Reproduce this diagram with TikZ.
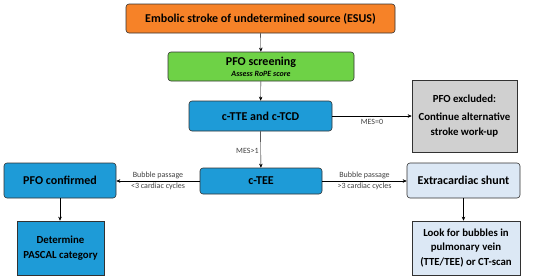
\documentclass[tikz,border=0pt]{standalone}
\usepackage{fontspec}
\setmainfont{Carlito}
\usetikzlibrary{positioning,arrows.meta,calc}
\definecolor{esusorange}{RGB}{246,130,40}
\definecolor{screengreen}{RGB}{110,210,70}
\definecolor{echoblue}{RGB}{30,155,215}
\definecolor{exclgray}{RGB}{208,208,208}
\definecolor{shuntblue}{RGB}{220,232,245}
\definecolor{edgegray}{RGB}{50,50,50}
\tikzset{
  flowbox/.style={draw=edgegray,line width=0.6pt,rounded corners=3pt,align=center,
    font=\bfseries\fontsize{12}{14}\selectfont,inner sep=2pt},
  sqbox/.style={flowbox,rounded corners=0pt,font=\bfseries\fontsize{10.8}{14.5}\selectfont},
  flowlbl/.style={font=\fontsize{8}{9.5}\selectfont,text=black!75,align=center,inner sep=1pt}
}
\begin{document}
\begin{tikzpicture}[x=1pt,y=-1pt,>={Stealth[length=4pt,width=3.5pt]}]
  \useasboundingbox (0,0) rectangle (550,279);
  % boxes
  \node[flowbox,fill=esusorange,minimum width=269pt,minimum height=29pt] (esus) at (260.5,18.5)
    {Embolic stroke of undetermined source (ESUS)};
  \node[flowbox,fill=screengreen,minimum width=186pt,minimum height=29pt] (screen) at (261,66.5)
    {PFO screening\\[-3pt]{\itshape\fontsize{8}{8}\selectfont Assess RoPE score}};
  \node[flowbox,fill=echoblue,minimum width=143pt,minimum height=30pt] (ttetcd) at (260.5,116)
    {c-TTE and c-TCD};
  \node[sqbox,fill=exclgray,minimum width=105pt,minimum height=72pt] (excl) at (464.5,116)
    {PFO excluded:\\[4pt]Continue alternative\\stroke work-up};
  \node[flowbox,fill=echoblue,minimum width=122pt,minimum height=26pt] (tee) at (261,181) {c-TEE};
  \node[flowbox,fill=echoblue,minimum width=112pt,minimum height=35pt] (conf) at (60,180.5)
    {PFO confirmed};
  \node[flowbox,fill=shuntblue,minimum width=113pt,minimum height=35pt] (shunt) at (463.5,180.5)
    {Extracardiac shunt};
  \node[sqbox,fill=echoblue,minimum width=87pt,minimum height=54pt] (pascal) at (60.5,248)
    {Determine\\PASCAL category};
  \node[sqbox,fill=shuntblue,minimum width=108pt,minimum height=54pt] (bubbles) at (466,248)
    {Look for bubbles in\\pulmonary vein\\(TTE/TEE) or CT-scan};
  % connectors
  \draw[->] (esus) -- (screen);
  \draw[->] (screen) -- (ttetcd);
  \draw[->] (ttetcd.east) -- (ttetcd.east -| excl.west)
    node[flowlbl,pos=0.5,below=2pt] (mes0) {MES=0};
  \draw[->] (ttetcd) -- (tee) node[flowlbl,pos=0.55,left=1pt] (mes1) {MES>1};
  \draw[->] (tee.west) -- (tee.west -| conf.east)
    node[flowlbl,midway,above=1pt] (lpass) {Bubble passage}
    node[flowlbl,midway,below=1pt] (lcyc) {<3 cardiac cycles};
  \draw[->] (tee.east) -- (tee.east -| shunt.west)
    node[flowlbl,midway,above=1pt] (rpass) {Bubble passage}
    node[flowlbl,midway,below=1pt] (rcyc) {>3 cardiac cycles};
  \draw[->] (conf) -- (conf |- pascal.north);
  \draw[->] (shunt) -- (shunt |- bubbles.north);
\end{tikzpicture}
\end{document}
